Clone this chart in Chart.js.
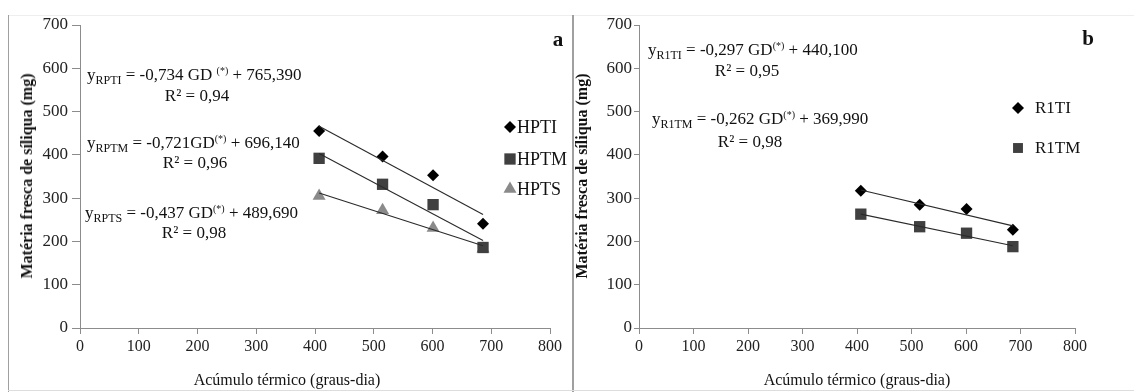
<!DOCTYPE html>
<html><head><meta charset="utf-8">
<script src="https://cdn.jsdelivr.net/npm/chart.js@4/dist/chart.umd.min.js"></script>
<style>
html,body{margin:0;padding:0;background:#fff;}
#wrap{position:relative;width:1134px;height:392px;overflow:hidden;font-family:"Liberation Serif","Times New Roman",serif;color:#111;background:#fff;}
canvas{position:absolute;left:0;top:0;}
.t{position:absolute;white-space:nowrap;line-height:20px;height:20px;font-size:17px;}
.c{transform:translateX(-50%);}
.sb{font-size:12px;position:relative;top:4px;}
.sp{font-size:10px;position:relative;top:-6px;}
.ytitle{position:absolute;white-space:nowrap;font-weight:bold;font-size:16px;line-height:18px;transform:translate(-50%,-50%) rotate(-90deg);}
.xtitle{position:absolute;white-space:nowrap;font-size:16px;line-height:18px;transform:translate(-50%,-50%);}
.lab{position:absolute;font-weight:bold;font-size:21px;line-height:22px;transform:translate(-50%,-50%);}
.frame{position:absolute;}
</style></head>
<body>
<div id="wrap">
  <div class="frame" style="left:8px;top:15px;width:1126px;height:1px;background:#eeeeee"></div>
  <div class="frame" style="left:8px;top:15px;width:1px;height:377px;background:#a0a0a0"></div>
  <div class="frame" style="left:572px;top:15px;width:2px;height:377px;background:#a0a0a0"></div>
  <div class="frame" style="left:8px;top:390px;width:1126px;height:1px;background:#dddddd"></div>
  <canvas id="cA" width="1134" height="392"></canvas>
  <canvas id="cB" width="1134" height="392"></canvas>

  <div class="t" style="left:87px;top:65px">y<span class="sb">RPTI</span> = -0,734 GD <span class="sp">(*)</span> + 765,390</div>
  <div class="t c" style="left:197px;top:86px">R² = 0,94</div>
  <div class="t" style="left:87px;top:133px">y<span class="sb">RPTM</span> = -0,721GD<span class="sp">(*)</span> + 696,140</div>
  <div class="t c" style="left:195px;top:153px">R² = 0,96</div>
  <div class="t" style="left:85px;top:203px">y<span class="sb">RPTS</span> = -0,437 GD<span class="sp">(*)</span> + 489,690</div>
  <div class="t c" style="left:194px;top:223px">R² = 0,98</div>

  <div class="t" style="left:648px;top:40px">y<span class="sb">R1TI</span> = -0,297 GD<span class="sp">(*)</span> + 440,100</div>
  <div class="t c" style="left:747px;top:61px">R² = 0,95</div>
  <div class="t" style="left:652px;top:109px">y<span class="sb">R1TM</span> = -0,262 GD<span class="sp">(*)</span> + 369,990</div>
  <div class="t c" style="left:750px;top:132px">R² = 0,98</div>

  <div class="ytitle" style="left:27px;top:176px">Matéria fresca de síliqua (mg)</div>
  <div class="ytitle" style="left:582px;top:176px">Matéria fresca de síliqua (mg)</div>
  <div class="xtitle" style="left:287px;top:380px">Acúmulo térmico (graus-dia)</div>
  <div class="xtitle" style="left:857px;top:380px">Acúmulo térmico (graus-dia)</div>
  <div class="lab" style="left:558px;top:39px">a</div>
  <div class="lab" style="left:1088px;top:38px">b</div>
</div>
<script>
// ---- data ----
const gdLeft = [407, 515, 601, 686];
const hpti = [455, 396, 353, 241];
const hptm = [392, 332, 285, 186];
const hpts = [305, 272, 231, 183];

const gdRight = [407, 515, 601, 686];
const r1ti = [317, 285, 275, 227];
const r1tm = [263, 234, 219, 188];

// fitted trend-line end points (x at first/last sample)
const trendX = [407, 686];
const trendHPTI = [466, 262];
const trendHPTM = [403, 202];
const trendHPTS = [312, 190];
const trendR1TI = [319, 236];
const trendR1TM = [263, 190];

const labelsLeft = ['HPTI', 'HPTM', 'HPTS'];
const labelsRight = ['R1TI', 'R1TM'];
const xTickValues = [0, 100, 200, 300, 400, 500, 600, 700, 800];
const yTickValues = [0, 100, 200, 300, 400, 500, 600, 700];

const FONT = '"Liberation Serif", "Times New Roman", serif';
const pts = (xs, ys) => xs.map((x, i) => ({x: x, y: ys[i]}));

function markerDs(label, xs, ys, style, color, radius) {
  return {label, data: pts(xs, ys), pointStyle: style, pointRadius: radius, pointHoverRadius: radius,
    backgroundColor: color, borderColor: color, borderWidth: 0, showLine: false, order: 2, isMarker: true};
}
function trendDs(ys) {
  return {label: '_trend', type: 'line', data: pts(trendX, ys), showLine: true, pointRadius: 0,
    borderColor: '#2a2a2a', borderWidth: 1.1, fill: false, tension: 0, order: 1};
}

const legendPlugin = {
  id: 'manualLegend',
  afterDraw(chart, args, opts) {
    const ctx = chart.ctx;
    ctx.save();
    let k = 0;
    chart.data.datasets.forEach(ds => {
      if (!ds.isMarker) return;
      const y = opts.ys[k];
      ctx.fillStyle = ds.backgroundColor;
      ctx.strokeStyle = ds.borderColor;
      Chart.helpers.drawPoint(ctx, {pointStyle: ds.pointStyle, radius: opts.r[k], rotation: 0, borderWidth: 0}, opts.mx, y);
      ctx.fillStyle = '#111';
      ctx.font = opts.size + 'px ' + FONT;
      ctx.textBaseline = 'middle';
      ctx.textAlign = 'left';
      ctx.fillText(ds.label, opts.tx, y + 1);
      k++;
    });
    ctx.restore();
  }
};

function makeChart(id, datasets, pad, yw, yTick, yPad, legend) {
  return new Chart(document.getElementById(id), {
    type: 'scatter',
    data: {datasets},
    plugins: [legendPlugin],
    options: {
      responsive: false, animation: false, devicePixelRatio: 1,
      layout: {padding: pad},
      plugins: {legend: {display: false}, tooltip: {enabled: false}, manualLegend: legend},
      scales: {
        x: {type: 'linear', min: 0, max: 800,
          afterBuildTicks: s => { s.ticks = xTickValues.map(v => ({value: v})); },
          grid: {display: true, drawOnChartArea: false, drawTicks: true, tickLength: 6, color: '#8c8c8c'},
          border: {display: true, color: '#8c8c8c', width: 1},
          ticks: {color: '#222', font: {family: FONT, size: 16}, padding: 3, maxRotation: 0, autoSkip: false},
          afterFit: s => { s.height = 40; }},
        y: {type: 'linear', min: 0, max: 700,
          afterBuildTicks: s => { s.ticks = yTickValues.map(v => ({value: v})); },
          grid: {display: true, drawOnChartArea: false, drawTicks: true, tickLength: yTick, color: '#8c8c8c'},
          border: {display: true, color: '#8c8c8c', width: 1},
          ticks: {color: '#222', font: {family: FONT, size: 17}, padding: yPad, autoSkip: false},
          afterFit: s => { s.width = yw; }}
      }
    }
  });
}

makeChart('cA', [
  markerDs(labelsLeft[0], gdLeft, hpti, 'rectRot', '#000000', 6),
  markerDs(labelsLeft[1], gdLeft, hptm, 'rect', '#404040', 8),
  markerDs(labelsLeft[2], gdLeft, hpts, 'triangle', '#8a8a8a', 7.5),
  trendDs(trendHPTI), trendDs(trendHPTM), trendDs(trendHPTS)
], {left: 30, right: 584, top: 25, bottom: 24}, 50, 8, 4,
  {mx: 510, tx: 517, ys: [127, 159, 189], r: [6, 8, 7.5], size: 18});

makeChart('cB', [
  markerDs(labelsRight[0], gdRight, r1ti, 'rectRot', '#000000', 6),
  markerDs(labelsRight[1], gdRight, r1tm, 'rect', '#404040', 8),
  trendDs(trendR1TI), trendDs(trendR1TM)
], {left: 589, right: 59, top: 25, bottom: 24}, 50, 5, 2,
  {mx: 1018, tx: 1035, ys: [108, 148], r: [6, 7], size: 17});
</script>
</body></html>
